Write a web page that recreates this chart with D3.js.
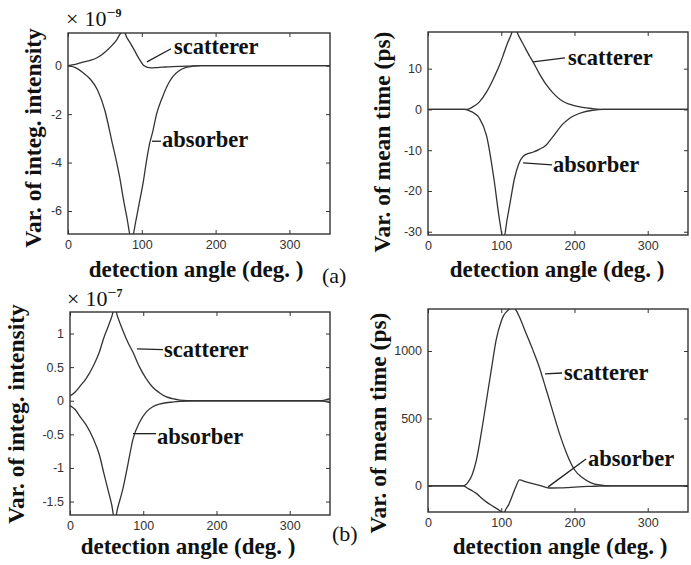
<!DOCTYPE html>
<html lang="en">
<head>
<meta charset="utf-8">
<title>Variation vs detection angle</title>
<script src="https://cdn.jsdelivr.net/npm/d3@7/dist/d3.min.js"></script>
<style>
  body { margin: 0; background: #fff; }
  .tick text { font-family: "Liberation Sans", Arial, sans-serif; font-size: 12.5px; fill: #333; }
  .tick line { stroke: #333; }
  .lbl { font-family: "Liberation Serif", "Times New Roman", serif; font-weight: bold; fill: #111; }
</style>
</head>
<body>
<script>
// detection angle ticks (deg.)
var xTicks = [0, 100, 200, 300];

// (a) variation of integrated intensity, x 1e-9
var angles1 = [0, 10, 20, 30, 40, 50, 60, 66, 70, 75, 80, 86, 92, 97, 102, 106, 110, 115, 120, 128, 135, 142, 150, 160, 170, 180, 200, 250, 300, 355];
var scat1 = [0, 0.05, 0.15, 0.22, 0.34, 0.56, 0.85, 1.07, 1.28, 1.45, 1.15, 0.85, 0.52, 0.25, 0.03, -0.05, -0.08, -0.09, -0.08, -0.06, -0.05, -0.04, -0.03, -0.02, -0.01, 0, 0, 0, 0, 0];
var abs1 = [0, -0.08, -0.28, -0.55, -1.0, -1.85, -3.2, -4.0, -4.6, -5.5, -6.3, -7.2, -6.4, -5.6, -4.8, -4.0, -3.3, -2.7, -2.0, -1.3, -0.8, -0.45, -0.22, -0.07, -0.02, 0, 0, 0, 0, 0];
var yTicks1 = [-6, -4, -2, 0];

// (a) variation of mean time (ps)
var angles2 = [0, 30, 50, 55, 60, 70, 80, 90, 98, 103, 108, 112, 118, 124, 130, 139, 143, 152, 161, 170, 184, 193, 211, 225, 240, 300, 355];
var scat2 = [0, 0, 0, 0.1, 0.5, 1.8, 4.3, 7.8, 11, 13.5, 16, 17.7, 20, 18, 16, 13, 11.8, 8.8, 6.2, 4.2, 2.0, 1.3, 0.5, 0.2, 0, 0, 0];
var abs2 = [0, 0, 0, -0.2, -0.6, -2.1, -6.5, -17, -27.5, -32, -27, -23, -17, -13.3, -11.5, -10.7, -10.5, -9.8, -8.8, -6.8, -3.6, -2.2, -0.7, -0.2, 0, 0, 0];
var yTicks2 = [-30, -20, -10, 0, 10];

// (b) variation of integrated intensity, x 1e-7
var angles3 = [0, 7, 14, 22, 32, 40, 46, 52, 57, 61, 65, 72, 79, 86, 95, 104, 113, 122, 131, 140, 150, 170, 200, 250, 300, 340, 348, 355];
var scat3 = [0.07, 0.13, 0.22, 0.33, 0.52, 0.72, 0.93, 1.1, 1.25, 1.38, 1.25, 1.05, 0.87, 0.72, 0.5, 0.33, 0.2, 0.12, 0.06, 0.03, 0.01, 0, 0, 0, 0, 0, 0.01, 0.03];
var abs3 = [-0.07, -0.13, -0.24, -0.36, -0.57, -0.8, -1.07, -1.33, -1.55, -1.78, -1.6, -1.32, -0.95, -0.57, -0.32, -0.17, -0.09, -0.05, -0.03, -0.02, -0.01, 0, 0, 0, 0, 0, -0.01, -0.03];
var yTicks3 = [-1.5, -1, -0.5, 0, 0.5, 1];

// (b) variation of mean time (ps)
var angles4 = [0, 30, 48, 55, 60, 66, 73, 80, 87, 93, 100, 103, 107, 110, 116, 120, 125, 134, 143, 152, 161, 165, 171, 180, 189, 200, 211, 222, 234, 250, 300, 355];
var scat4 = [0, 0, 0, 30, 80, 190, 400, 640, 880, 1080, 1220, 1260, 1290, 1305, 1320, 1305, 1250, 1130, 1010, 880, 720, 650, 540, 380, 245, 120, 60, 25, 7, 0, 0, 0];
var abs4 = [0, 0, 0, -20, -35, -55, -90, -120, -145, -165, -190, -205, -165, -140, -60, -5, 45, 30, 18, 5, -10, -15, -15, -14, -12, -8, -5, -3, -1, 0, 0, 0];
var yTicks4 = [0, 500, 1000];

var width = 691, height = 565;

var svg = d3.select("body").append("svg")
    .attr("width", width)
    .attr("height", height);

var panels = [
  { id: 1, angles: angles1, scat: scat1, abs: abs1, yTicks: yTicks1, yDomain: [-6.95, 1.35],
    box: [68, 330, 33, 234], ylabel: "Var. of integ. intensity", ylabelX: 41, ylabelY: 138,
    xlabelX: 196, xlabelY: 277,
    notes: [
      { text: "scatterer", from: [107, 0.16], to: [139.6, 0.70], at: [143.6, 0.49] },
      { text: "absorber", from: [113.8, -3.12], to: [126, -3.12], at: [127.4, -3.37] }
    ] },
  { id: 2, angles: angles2, scat: scat2, abs: abs2, yTicks: yTicks2, yDomain: [-30.8, 19.0],
    box: [428, 688, 32, 235], ylabel: "Var. of mean time (ps)", ylabelX: 390, ylabelY: 142,
    xlabelX: 557, xlabelY: 277,
    notes: [
      { text: "scatterer", from: [143.4, 11.66], to: [187, 12.64], at: [191.3, 10.92] },
      { text: "absorber", from: [129.8, -13.1], to: [169.4, -13.6], at: [170.8, -15.3] }
    ] },
  { id: 3, angles: angles3, scat: scat3, abs: abs3, yTicks: yTicks3, yDomain: [-1.70, 1.32],
    box: [70, 330, 312, 515], ylabel: "Var. of integ. intensity", ylabelX: 24, ylabelY: 414,
    xlabelX: 188, xlabelY: 554,
    notes: [
      { text: "scatterer", from: [91.5, 0.77], to: [127, 0.76], at: [128.4, 0.65] },
      { text: "absorber", from: [86, -0.49], to: [117.5, -0.49], at: [118.8, -0.64] }
    ] },
  { id: 4, angles: angles4, scat: scat4, abs: abs4, yTicks: yTicks4, yDomain: [-193, 1311],
    box: [428, 688, 309, 512], ylabel: "Var. of mean time (ps)", ylabelX: 386, ylabelY: 423,
    xlabelX: 560, xlabelY: 554,
    notes: [
      { text: "scatterer", from: [159.8, 830], to: [183, 837], at: [185.8, 785] },
      { text: "absorber", from: [164, -7], to: [215.8, 200], at: [218.6, 148] }
    ] }
];

panels.forEach(function(p) {
  var x = d3.scaleLinear().domain([0, 355]).range([p.box[0], p.box[1]]);
  var y = d3.scaleLinear().domain(p.yDomain).range([p.box[3], p.box[2]]);
  var g = svg.append("g");

  // clip the curves to the axes box
  g.append("clipPath").attr("id", "clip" + p.id)
    .append("rect")
      .attr("x", p.box[0]).attr("y", p.box[2])
      .attr("width", p.box[1] - p.box[0]).attr("height", p.box[3] - p.box[2]);

  var line = d3.line()
      .x(function(d) { return x(d[0]); })
      .y(function(d) { return y(d[1]); })
      .curve(d3.curveMonotoneX);

  [p.scat, p.abs].forEach(function(vals) {
    g.append("path")
      .datum(p.angles.map(function(a, i) { return [a, vals[i]]; }))
      .attr("clip-path", "url(#clip" + p.id + ")")
      .attr("fill", "none")
      .attr("stroke", "#333")
      .attr("stroke-width", 1.3)
      .attr("d", line);
  });

  // axes, ticks pointing inwards like matlab
  var fmt = function(d) { return String(d); };
  g.append("g").attr("transform", "translate(0," + p.box[3] + ")")
    .call(d3.axisBottom(x).tickValues(xTicks).tickSize(-4).tickPadding(6).tickFormat(fmt));
  g.append("g").attr("transform", "translate(0," + p.box[2] + ")")
    .call(d3.axisTop(x).tickValues(xTicks).tickSize(-4).tickFormat(""));
  g.append("g").attr("transform", "translate(" + p.box[0] + ",0)")
    .call(d3.axisLeft(y).tickValues(p.yTicks).tickSize(-4).tickPadding(6).tickFormat(fmt));
  g.append("g").attr("transform", "translate(" + p.box[1] + ",0)")
    .call(d3.axisRight(y).tickValues(p.yTicks).tickSize(-4).tickFormat(""));
  g.selectAll(".domain").remove();

  g.append("rect")
    .attr("x", p.box[0]).attr("y", p.box[2])
    .attr("width", p.box[1] - p.box[0]).attr("height", p.box[3] - p.box[2])
    .attr("fill", "none").attr("stroke", "#333").attr("stroke-width", 1.4);

  // labels
  g.append("text").attr("class", "lbl")
    .attr("x", p.xlabelX).attr("y", p.xlabelY)
    .attr("text-anchor", "middle").style("font-size", "23px")
    .text("detection angle (deg. )");

  g.append("text").attr("class", "lbl")
    .attr("transform", "translate(" + p.ylabelX + "," + p.ylabelY + ") rotate(-90)")
    .attr("text-anchor", "middle").style("font-size", "23.5px")
    .text(p.ylabel);

  p.notes.forEach(function(n) {
    g.append("line")
      .attr("x1", x(n.from[0])).attr("y1", y(n.from[1]))
      .attr("x2", x(n.to[0])).attr("y2", y(n.to[1]))
      .attr("stroke", "#222").attr("stroke-width", 1.3);
    g.append("text").attr("class", "lbl")
      .attr("x", x(n.at[0])).attr("y", y(n.at[1]))
      .style("font-size", "22.5px")
      .text(n.text);
  });
});

// exponent labels, e.g. x10^-9
function expo(xp, yp, e) {
  var t = svg.append("text").attr("class", "lbl").attr("x", xp).attr("y", yp)
      .style("font-size", "22px").style("font-weight", "normal");
  t.append("tspan").text("\u00d7");
  t.append("tspan").attr("dx", 6).text("10");
  t.append("tspan").attr("dy", -8).style("font-size", "16px").text("\u2212");
  t.append("tspan").attr("dy", -1).style("font-size", "12px").style("font-weight", "bold").text(e);
}
expo(66, 26, "9");
expo(67, 306, "7");

svg.append("text").attr("class", "lbl").attr("x", 322).attr("y", 283)
  .style("font-size", "22px").style("font-weight", "normal").text("(a)");
svg.append("text").attr("class", "lbl").attr("x", 332).attr("y", 541)
  .style("font-size", "22px").style("font-weight", "normal").text("(b)");
</script>
</body>
</html>
